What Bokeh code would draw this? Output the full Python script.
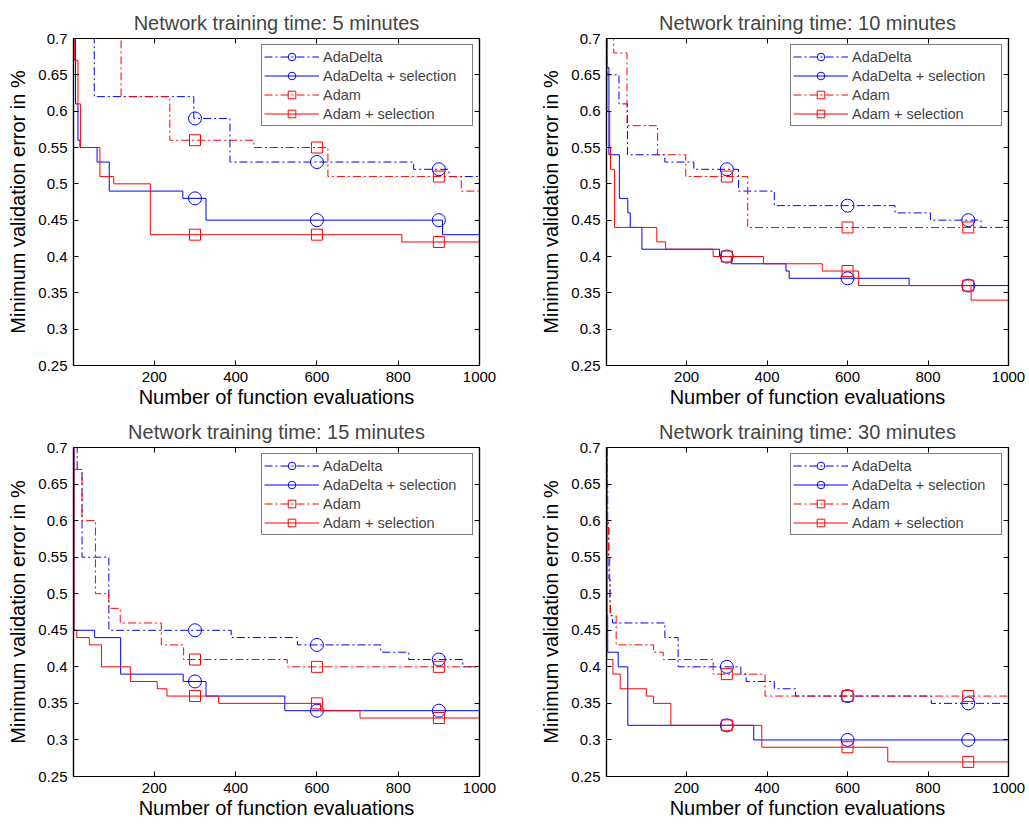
import numpy as np
from bokeh.plotting import figure
from bokeh.layouts import column, row
from bokeh.models import (Range1d, FixedTicker, LinearAxis, Legend, LegendItem,
                          CustomJSTickFormatter)
from bokeh.embed import file_html
from bokeh.resources import INLINE

# ---------------- data ----------------
x_ticks = [200, 400, 600, 800, 1000]
y_ticks = [0.25, 0.3, 0.35, 0.4, 0.45, 0.5, 0.55, 0.6, 0.65, 0.7]
marker_x = [300, 600, 900]
series_names = ["AdaDelta", "AdaDelta + selection", "Adam", "Adam + selection"]
titles = ["Network training time: 5 minutes", "Network training time: 10 minutes",
          "Network training time: 15 minutes", "Network training time: 30 minutes"]

# 5 minutes
m5_adadelta_x = [1, 52, 297, 386, 838, 925]
m5_adadelta_y = [0.72, 0.62, 0.59, 0.53, 0.52, 0.51]
m5_adadelta_sel_x = [1, 6, 12, 17, 59, 89, 270, 327, 909]
m5_adadelta_sel_y = [0.72, 0.61, 0.56, 0.55, 0.53, 0.49, 0.48, 0.45, 0.43]
m5_adam_x = [1, 118, 238, 445, 627, 955]
m5_adam_y = [0.72, 0.62, 0.56, 0.55, 0.51, 0.49]
m5_adam_sel_x = [1, 3, 12, 18, 66, 100, 190, 809]
m5_adam_sel_y = [0.72, 0.67, 0.61, 0.55, 0.51, 0.50, 0.43, 0.42]

# 10 minutes
m10_adadelta_x = [1, 2, 32, 53, 146, 218, 329, 418, 718, 806, 932]
m10_adadelta_y = [0.72, 0.65, 0.61, 0.54, 0.53, 0.52, 0.49, 0.47, 0.46, 0.45, 0.44]
m10_adadelta_sel_x = [1, 2, 7, 33, 54, 60, 89, 282, 311, 447, 455, 753]
m10_adadelta_sel_y = [0.72, 0.66, 0.54, 0.48, 0.46, 0.44, 0.41, 0.40, 0.39, 0.38, 0.37, 0.36]
m10_adam_x = [1, 19, 52, 128, 198, 352]
m10_adam_y = [0.72, 0.68, 0.58, 0.54, 0.51, 0.44]
m10_adam_sel_x = [1, 2, 9, 11, 21, 126, 148, 266, 391, 537, 627, 907]
m10_adam_sel_y = [0.72, 0.60, 0.55, 0.52, 0.44, 0.42, 0.41, 0.40, 0.39, 0.38, 0.36, 0.34]

# 15 minutes
m15_adadelta_x = [1, 10, 22, 88, 389, 552, 757, 826, 959]
m15_adadelta_y = [0.72, 0.67, 0.55, 0.45, 0.44, 0.43, 0.42, 0.41, 0.40]
m15_adadelta_sel_x = [1, 2, 53, 117, 271, 327, 521]
m15_adadelta_sel_y = [0.72, 0.45, 0.44, 0.39, 0.38, 0.36, 0.34]
m15_adam_x = [1, 22, 55, 88, 116, 217, 272, 527]
m15_adam_y = [0.67, 0.60, 0.50, 0.48, 0.46, 0.43, 0.41, 0.40]
m15_adam_sel_x = [1, 2, 9, 40, 70, 141, 207, 231, 358, 609, 706]
m15_adam_sel_y = [0.72, 0.45, 0.44, 0.43, 0.40, 0.38, 0.37, 0.36, 0.35, 0.34, 0.33]

# 30 minutes
m30_adadelta_x = [1, 2, 4, 7, 10, 16, 146, 179, 335, 348, 418, 471, 808]
m30_adadelta_y = [0.72, 0.65, 0.59, 0.52, 0.47, 0.46, 0.44, 0.40, 0.39, 0.38, 0.37, 0.36, 0.35]
m30_adadelta_sel_x = [1, 2, 4, 30, 54, 367]
m30_adadelta_sel_y = [0.72, 0.47, 0.42, 0.40, 0.32, 0.30]
m30_adam_x = [1, 3, 6, 9, 11, 25, 118, 142, 266, 395]
m30_adam_y = [0.72, 0.60, 0.55, 0.49, 0.47, 0.43, 0.42, 0.41, 0.39, 0.36]
m30_adam_sel_x = [1, 2, 17, 35, 100, 118, 161, 387, 700]
m30_adam_sel_y = [0.72, 0.41, 0.39, 0.37, 0.36, 0.35, 0.32, 0.29, 0.27]

panels = [
    [(m5_adadelta_x, m5_adadelta_y), (m5_adadelta_sel_x, m5_adadelta_sel_y),
     (m5_adam_x, m5_adam_y), (m5_adam_sel_x, m5_adam_sel_y)],
    [(m10_adadelta_x, m10_adadelta_y), (m10_adadelta_sel_x, m10_adadelta_sel_y),
     (m10_adam_x, m10_adam_y), (m10_adam_sel_x, m10_adam_sel_y)],
    [(m15_adadelta_x, m15_adadelta_y), (m15_adadelta_sel_x, m15_adadelta_sel_y),
     (m15_adam_x, m15_adam_y), (m15_adam_sel_x, m15_adam_sel_y)],
    [(m30_adadelta_x, m30_adadelta_y), (m30_adadelta_sel_x, m30_adadelta_sel_y),
     (m30_adam_x, m30_adam_y), (m30_adam_sel_x, m30_adam_sel_y)],
]

# ---------------- styling ----------------
FONT = "Liberation Sans"
styles = [
    dict(color="#0000ff", dash="8 3 2 3", marker="circle", size=13),
    dict(color="#0000ff", dash="solid", marker="circle", size=13),
    dict(color="#ff0000", dash="8 3 2 3", marker="square", size=11),
    dict(color="#ff0000", dash="solid", marker="square", size=11),
]
fmt = CustomJSTickFormatter(code="return String(Math.round(tick*100)/100);")


def mirror_axis(ticks):
    return LinearAxis(ticker=FixedTicker(ticks=ticks), major_label_text_font_size="1px",
                      major_label_text_color=None, major_label_text_alpha=0,
                      major_label_standoff=0, major_tick_in=5, major_tick_out=0,
                      minor_tick_in=0, minor_tick_out=0, axis_line_color="black",
                      axis_line_width=1.2)


def make_panel(idx):
    right_col = idx % 2 == 1
    bottom_row = idx >= 2
    width = 490 if right_col else 537
    height = 412 if bottom_row else 410
    p = figure(width=width, height=height,
               x_range=Range1d(1, 1000), y_range=Range1d(0.25, 0.7),
               output_backend="svg", toolbar_location=None,
               min_border_left=65 if right_col else 73,
               min_border_right=19 if right_col else 58,
               min_border_top=37 if bottom_row else 38,
               min_border_bottom=46 if bottom_row else 43)
    p.title.text = titles[idx]
    p.title.text_font = FONT
    p.title.text_font_size = "20px"
    p.title.text_font_style = "normal"
    p.title.align = "center"
    p.title.standoff = 9
    p.xgrid.visible = False
    p.ygrid.visible = False
    p.outline_line_color = "black"
    p.outline_line_width = 1.2
    p.background_fill_color = "white"
    p.border_fill_color = "white"

    p.xaxis.ticker = FixedTicker(ticks=x_ticks)
    p.yaxis.ticker = FixedTicker(ticks=y_ticks)
    p.yaxis.formatter = fmt
    p.xaxis.axis_label = "Number of function evaluations"
    p.yaxis.axis_label = "Minimum validation error in %"
    for ax in (p.xaxis[0], p.yaxis[0]):
        ax.axis_label_text_font = FONT
        ax.axis_label_text_font_size = "20px"
        ax.axis_label_text_font_style = "normal"
        ax.axis_label_text_color = "black"
        ax.major_label_text_font = FONT
        ax.major_label_text_font_size = "15px"
        ax.major_label_text_color = "black"
        ax.major_tick_in = 5
        ax.major_tick_out = 0
        ax.minor_tick_in = 0
        ax.minor_tick_out = 0
        ax.axis_line_color = "black"
        ax.axis_line_width = 1.2
        ax.major_tick_line_color = "black"
    p.xaxis.major_label_standoff = 6
    p.xaxis.axis_label_standoff = 1
    p.yaxis.major_label_standoff = 6
    p.yaxis.axis_label_standoff = 6

    p.add_layout(mirror_axis(x_ticks), "above")
    p.add_layout(mirror_axis(y_ticks), "right")

    items = []
    for (xs, ys), st, name in zip(panels[idx], styles, series_names):
        xs_full = list(xs) + [1000]
        ys_full = list(ys) + [ys[-1]]
        lr = p.step(x=xs_full, y=ys_full, mode="after", line_color=st["color"],
                    line_width=1, line_dash=st["dash"])
        pos = np.searchsorted(np.array(xs), np.array(marker_x), side="right") - 1
        my = [ys[i] for i in pos]
        mr = p.scatter(x=marker_x, y=my, marker=st["marker"], size=st["size"],
                       line_color=st["color"], fill_color=None, line_width=1)
        items.append(LegendItem(label=name, renderers=[lr, mr]))

    legend = Legend(items=items, location="top_right", margin=6, padding=2,
                    spacing=0, glyph_width=55, glyph_height=19, label_height=19,
                    label_width=147, label_standoff=4,
                    label_text_font=FONT, label_text_font_size="14.5px",
                    border_line_color="black", border_line_width=1.2,
                    background_fill_alpha=1.0)
    p.add_layout(legend)
    return p


figs = [make_panel(i) for i in range(4)]
layout = column(row(figs[0], figs[1]), row(figs[2], figs[3]))

open("out.html", "w").write(file_html(layout, INLINE))
